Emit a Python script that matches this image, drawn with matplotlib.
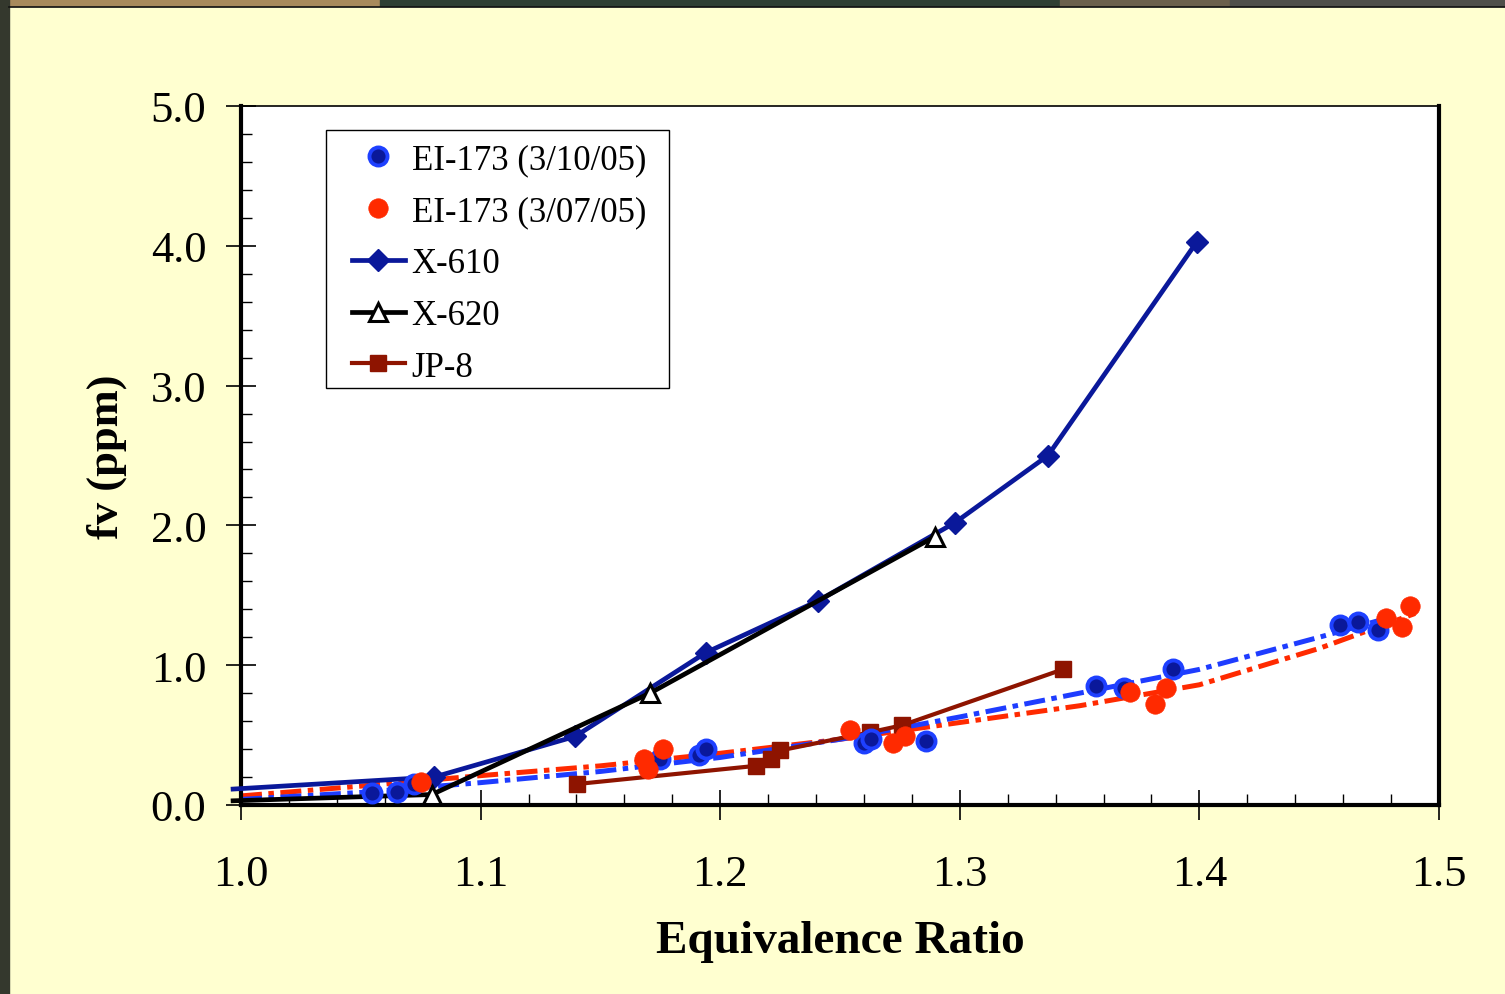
import matplotlib
matplotlib.use("Agg")
import matplotlib.pyplot as plt
from matplotlib.patches import Rectangle
from matplotlib.ticker import MultipleLocator, FormatStrFormatter

# ---------------- data ----------------
ei_1003_x = [1.0547, 1.065, 1.072, 1.175, 1.191, 1.194, 1.260, 1.263, 1.286,
             1.357, 1.3685, 1.389, 1.4587, 1.466, 1.4745]
ei_1003_y = [0.086, 0.093, 0.15, 0.33, 0.36, 0.40, 0.44, 0.47, 0.46,
             0.85, 0.84, 0.97, 1.29, 1.31, 1.25]

ei_0703_x = [1.075, 1.168, 1.170, 1.176, 1.254, 1.272, 1.277, 1.371, 1.3815,
             1.386, 1.478, 1.4846, 1.488]
ei_0703_y = [0.165, 0.33, 0.26, 0.40, 0.54, 0.44, 0.49, 0.81, 0.72,
             0.84, 1.34, 1.27, 1.42]

x610_x = [0.9967, 1.0806, 1.1394, 1.194, 1.2408, 1.298, 1.3368, 1.399]
x610_y = [0.114, 0.20, 0.49, 1.09, 1.46, 2.02, 2.50, 4.03]

x620_x = [0.9967, 1.0797, 1.1707, 1.2896]
x620_y = [0.03, 0.075, 0.80, 1.92]

jp8_x = [1.1402, 1.2149, 1.2212, 1.225, 1.2625, 1.2759, 1.343]
jp8_y = [0.15, 0.28, 0.33, 0.39, 0.52, 0.57, 0.97]

# trend curves
fit_blue_x = [1.0, 1.05, 1.1, 1.15, 1.2, 1.25, 1.3, 1.35, 1.4, 1.45, 1.475]
fit_blue_y = [0.04, 0.09, 0.16, 0.24, 0.34, 0.47, 0.63, 0.80, 0.97, 1.20, 1.32]
fit_red_x = [1.0, 1.05, 1.1, 1.15, 1.2, 1.25, 1.3, 1.35, 1.4, 1.45, 1.49]
fit_red_y = [0.065, 0.135, 0.21, 0.28, 0.37, 0.47, 0.59, 0.71, 0.86, 1.12, 1.37]

labels = ["EI-173 (3/10/05)", "EI-173 (3/07/05)", "X-610", "X-620", "JP-8"]

# ---------------- style ----------------
plt.rcParams['font.family'] = ['Liberation Serif', 'DejaVu Serif']

W, H = 1505, 995
fig = plt.figure(figsize=(W / 100, H / 100), dpi=100)
fig.patch.set_facecolor('#FFFFD0')

# dark picture edges (top strip + left strip)
top_cols = [(0, 380, '#a88a5c'), (380, 1060, '#2f3f33'), (1060, 1230, '#6b604c'), (1230, 1505, '#4f4f4a')]
for x0, x1, c in top_cols:
    fig.patches.append(Rectangle((x0 / W, 1 - 7 / H), (x1 - x0) / W, 7 / H,
                                 transform=fig.transFigure, color=c, zorder=0))
fig.patches.append(Rectangle((0, 0), 9 / W, 1, transform=fig.transFigure,
                             color='#34382d', zorder=0))
fig.lines.append(plt.Line2D([9 / W, 1], [1 - 7.5 / H, 1 - 7.5 / H], transform=fig.transFigure,
                            color='#111111', lw=1.2))

AX_L, AX_R, AX_T, AX_B = 241, 1439, 107, 806
ax = fig.add_axes([AX_L / W, 1 - AX_B / H, (AX_R - AX_L) / W, (AX_B - AX_T) / H])
ax.set_facecolor('white')

navy = '#0A189A'
blue_edge = '#1E40FF'
red = '#FF2A00'
dred = '#8E1400'

dash = (0, (4.2, 1.3, 1.1, 1.3))
ax.plot(fit_red_x, fit_red_y, color=red, lw=3.6, linestyle=dash, dash_capstyle='butt', zorder=2)
ax.plot(fit_blue_x, fit_blue_y, color='#1E3CFF', lw=3.6, linestyle=dash, dash_capstyle='butt', zorder=2)

ax.plot(x610_x, x610_y, color=navy, lw=3.4, marker='D', markersize=11.5, markevery=slice(1, None),
        mfc=navy, mec=navy, clip_on=False, label=labels[2], zorder=3)
ax.plot(x620_x, x620_y, color='black', lw=3.4, marker='^', markersize=13, markevery=slice(1, None),
        mfc='white', mec='black', mew=2.2, clip_on=False, label=labels[3], zorder=3.5)
ax.plot(jp8_x, jp8_y, color=dred, lw=3.0, marker='s', markersize=12,
        mfc=dred, mec=dred, label=labels[4], zorder=3)

ax.plot(ei_1003_x, ei_1003_y, linestyle='none', marker='o', markersize=13,
        mfc=navy, mec=blue_edge, mew=2.8, label=labels[0], zorder=4)
ax.plot(ei_0703_x, ei_0703_y, linestyle='none', marker='o', markersize=14,
        mfc=red, mec=red, mew=0.5, label=labels[1], zorder=4)

ax.set_xlim(1.0, 1.5)
ax.set_ylim(0.0, 5.0)
ax.xaxis.set_major_locator(MultipleLocator(0.1))
ax.xaxis.set_minor_locator(MultipleLocator(0.02))
ax.yaxis.set_major_locator(MultipleLocator(1.0))
ax.yaxis.set_minor_locator(MultipleLocator(0.2))
ax.xaxis.set_major_formatter(FormatStrFormatter('%.1f'))
ax.yaxis.set_major_formatter(FormatStrFormatter('%.1f'))

ax.tick_params(which='major', direction='inout', length=22, width=1.2, labelsize=32, pad=14,
               colors='black')
ax.tick_params(axis='x', which='major', pad=24)
ax.tick_params(which='minor', direction='in', length=8, width=1.0)
ax.tick_params(top=False, right=False, which='both')

for s in ['left', 'bottom', 'right']:
    ax.spines[s].set_linewidth(3.0)
    ax.spines[s].set_color('black')
ax.spines['top'].set_linewidth(1.2)

ax.set_xlabel('Equivalence Ratio', fontsize=34, fontweight='bold', labelpad=19)
ax.set_ylabel('fv (ppm)', fontsize=32, fontweight='bold', labelpad=17)


def ax_frac(px, py):
    return (px - AX_L) / (AX_R - AX_L), (AX_B - py) / (AX_B - AX_T)


# legend box drawn as a separate rectangle
bx0, by0 = ax_frac(326, 389)
bx1, by1 = ax_frac(669, 131)
ax.add_patch(Rectangle((bx0, by0), bx1 - bx0, by1 - by0, transform=ax.transAxes,
                       facecolor='white', edgecolor='black', lw=1.0, zorder=9, clip_on=False))

handles, labs = ax.get_legend_handles_labels()
order = [labs.index(l) for l in labels]
leg = ax.legend([handles[i] for i in order], [labs[i] for i in order],
                loc='upper left', bbox_to_anchor=ax_frac(336, 129),
                borderaxespad=0, fontsize=25, frameon=False,
                handlelength=1.53, handletextpad=0.2, labelspacing=0.54,
                borderpad=0.45, numpoints=1)
leg.set_zorder(10)

fig.savefig('out.png', dpi=100, facecolor=fig.get_facecolor())
